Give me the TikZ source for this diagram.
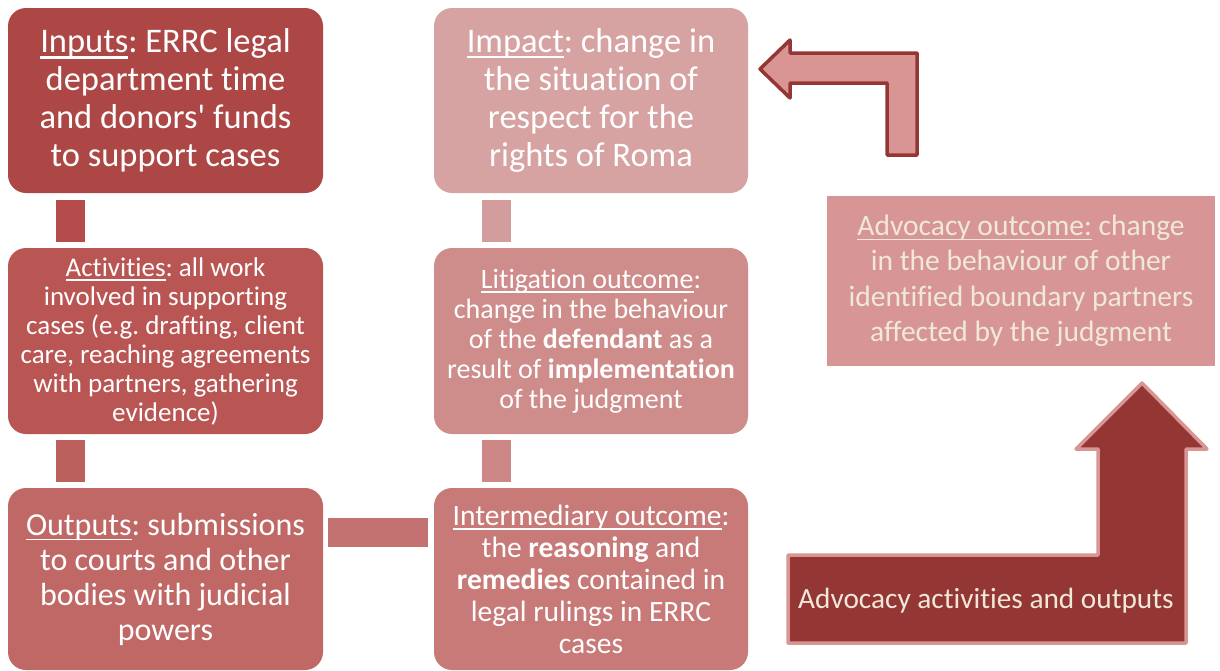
\documentclass[tikz,border=0pt]{standalone}
\usepackage{fontspec}
\setmainfont{Carlito}[Ligatures={TeX,NoCommon}]
\newfontfamily\apofont{Carlito}
\newcommand\apo{{\apofont'}}
\newcommand\myul[1]{\leavevmode\setbox0\hbox{#1}\rlap{\rule[-0.17em]{\wd0}{0.06em}}\box0\relax}
\frenchspacing
\definecolor{cInputs}{HTML}{AC4746}
\definecolor{cC1}{HTML}{B34C4A}
\definecolor{cAct}{HTML}{B95654}
\definecolor{cC2}{HTML}{BC605E}
\definecolor{cOut}{HTML}{C06866}
\definecolor{cH}{HTML}{C47171}
\definecolor{cInt}{HTML}{C87A78}
\definecolor{cC4}{HTML}{CC8786}
\definecolor{cLit}{HTML}{CE8C8A}
\definecolor{cC3}{HTML}{D49D9D}
\definecolor{cImp}{HTML}{D6A2A2}
\definecolor{cAdvO}{HTML}{D79695}
\definecolor{cArrDark}{HTML}{943634}
\definecolor{cArrLight}{HTML}{D99594}
\definecolor{cCream}{HTML}{F0E8DA}
\tikzset{
  box/.style={rounded corners=18pt, inner sep=0pt, align=center, text=white, execute at begin node=\frenchspacing},
  link/.style={inner sep=0pt},
}
\begin{document}
\begin{tikzpicture}[x=1pt,y=-1pt]
\useasboundingbox (0,0) rectangle (1220,670);
% left column
\node[box, fill=cInputs, minimum width=315pt, minimum height=185pt, font=\fontsize{34.5}{38}\selectfont] (inputs) at (165.5,100.5)
  {\myul{Inputs}: ERRC legal\\department time\\and donors\apo{} funds\\to support cases};
\node[box, fill=cAct, minimum width=315pt, minimum height=186pt, font=\fontsize{27}{29}\selectfont] (act) at (165.5,341)
  {\myul{Activities}: all work\\involved in supporting\\cases (e.g. drafting, client\\care, reaching agreements\\with partners, gathering\\evidence)};
\node[box, fill=cOut, minimum width=315pt, minimum height=182pt, font=\fontsize{32}{35}\selectfont] (out) at (165.5,579)
  {\myul{Outputs}: submissions\\to courts and other\\bodies with judicial\\powers};
% middle column
\node[box, fill=cImp, minimum width=314pt, minimum height=185pt, font=\fontsize{34.5}{38}\selectfont] (impact) at (591,100.5)
  {\myul{Impact}: change in\\the situation of\\respect for the\\rights of Roma};
\node[box, fill=cLit, minimum width=314pt, minimum height=186pt, font=\fontsize{28}{30}\selectfont] (lit) at (591,341)
  {\myul{Litigation outcome}:\\change in the behaviour\\of the \textbf{defendant} as a\\result of \textbf{implementation}\\of the judgment};
\node[box, fill=cInt, minimum width=314pt, minimum height=182pt, font=\fontsize{29.5}{32}\selectfont] (inter) at (591,579)
  {\myul{Intermediary outcome}:\\the \textbf{reasoning} and\\\textbf{remedies} contained in\\legal rulings in ERRC\\cases};
% connectors
\node[link, fill=cC1, minimum width=29pt, minimum height=42pt] (c1) at (70.5,221) {};
\node[link, fill=cC2, minimum width=29pt, minimum height=42pt] (c2) at (70.5,461) {};
\node[link, fill=cC3, minimum width=29pt, minimum height=42pt] (c3) at (496.5,221) {};
\node[link, fill=cC4, minimum width=29pt, minimum height=42pt] (c4) at (496.5,461) {};
\node[link, fill=cH, minimum width=100pt, minimum height=29pt] (c5) at (378,532.5) {};
% advocacy outcome
\node[inner sep=0pt, fill=cAdvO, text=cCream, align=center, minimum width=388pt, minimum height=170pt, font=\fontsize{29.5}{35.5}\selectfont] (advo) at (1021,281)
  {\myul{Advocacy outcome:} change\\in the behaviour of other\\identified boundary partners\\affected by the judgment};
% bent up arrow
\draw[fill=cArrDark, draw=cArrLight, line width=3.5pt, line join=round]
  (788,555) -- (1098,555) -- (1098,449) -- (1076,449) -- (1142,383) -- (1207,449) -- (1186,449) -- (1186,643) -- (788,643) -- cycle;
\node[text=cCream, font=\fontsize{29.3}{32}\selectfont, anchor=west, inner sep=0pt] (advact) at (798,601) {Advocacy activities and outputs};
% bent left arrow
\draw[fill=cArrLight, draw=cArrDark, line width=3.5pt, line join=round]
  (887,155) -- (887,83) -- (790,83) -- (790,98) -- (760,69) -- (790,40) -- (790,53) -- (917,53) -- (917,155) -- cycle;
\end{tikzpicture}
\end{document}
